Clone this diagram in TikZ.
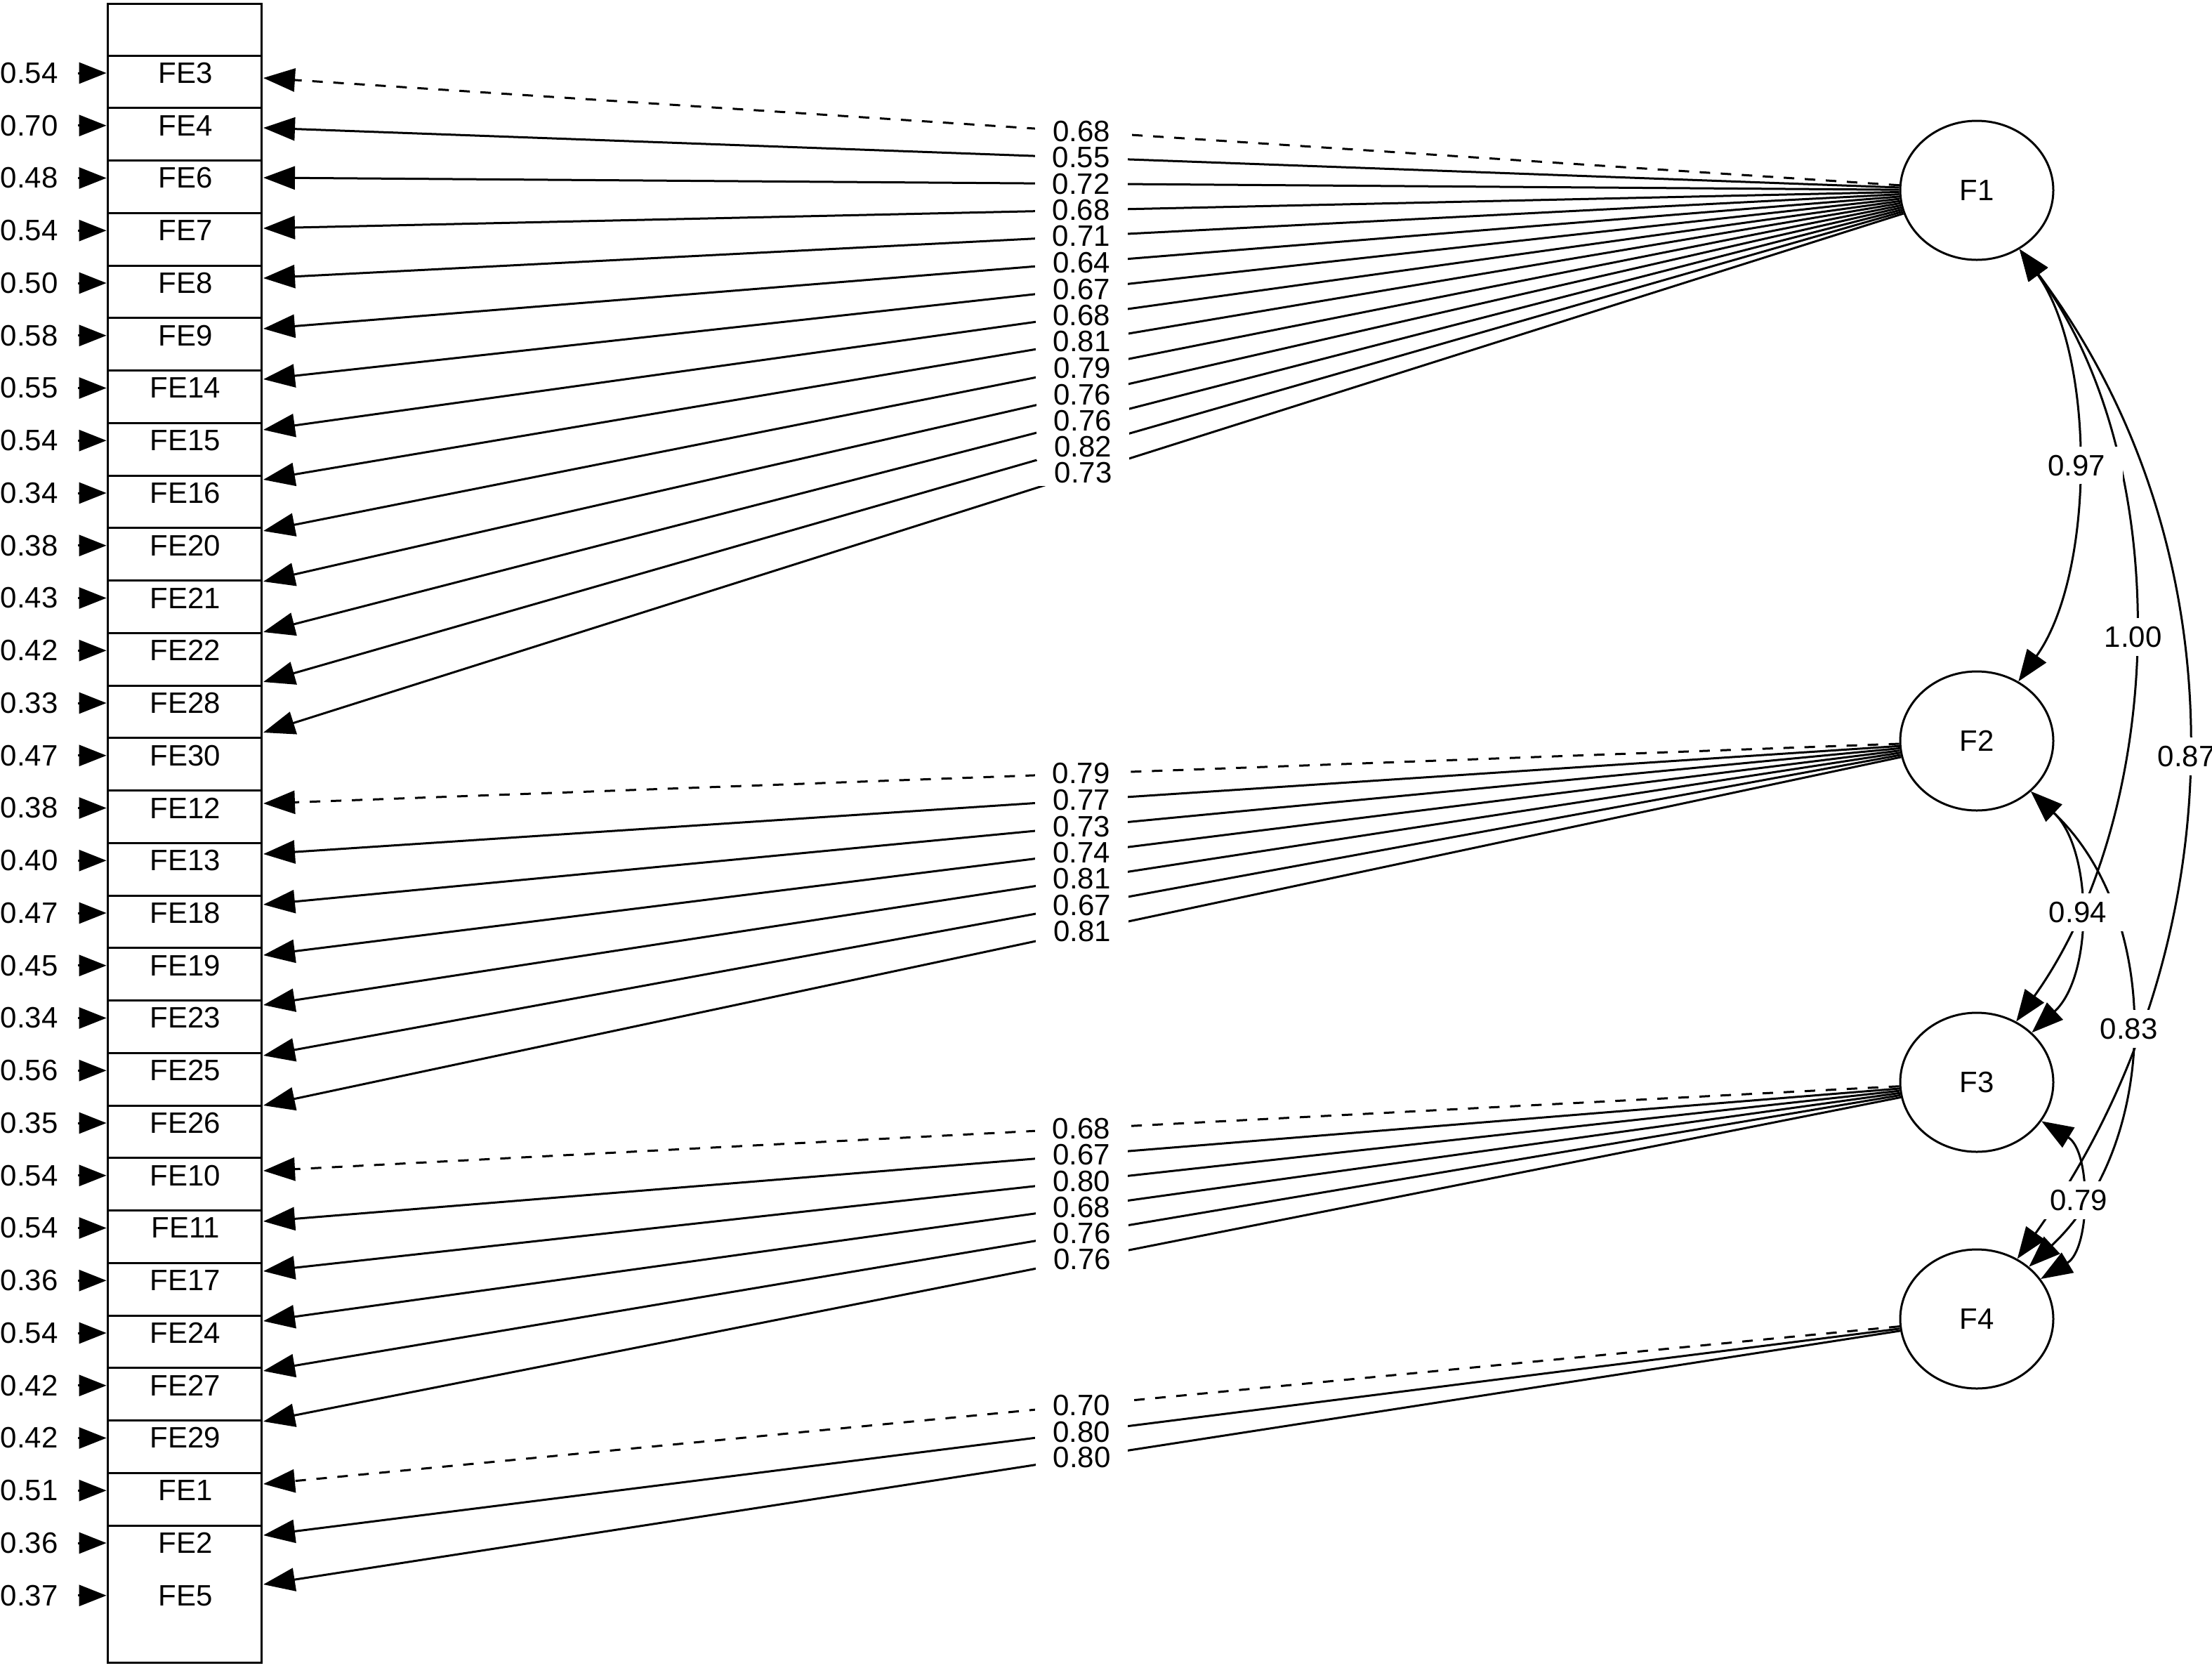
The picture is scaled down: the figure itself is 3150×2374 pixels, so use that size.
\documentclass[tikz,border=0pt]{standalone}
\usepackage{fontspec}
\setmainfont{Liberation Sans}
\usetikzlibrary{arrows.meta,shapes.geometric}
\begin{document}
\begin{tikzpicture}[x=0.5pt,y=-0.5pt,
  every node/.append style={font=\fontsize{21}{25}\selectfont},
  lw/.style={line width=1.5pt},
  latent/.style={draw,ellipse,line width=1.5pt,minimum width=109pt,minimum height=99pt,inner sep=0pt},
  item/.style={minimum width=112pt,inner sep=0pt},
  errlab/.style={anchor=east,inner sep=0pt},
  errarr/.style={line width=1.5pt,-{Triangle[length=19.5pt,width=15pt]}},
  load/.style={line width=1.5pt,-{Triangle[length=22.5pt,width=16.5pt]}},
  fixed/.style={load,dash pattern=on 7.5pt off 7.5pt},
  loadlab/.style={fill=white,inner xsep=12.5pt,inner ysep=2pt},
  cov/.style={line width=1.5pt,{Triangle[length=22.5pt,width=16.5pt]}-{Triangle[length=22.5pt,width=16.5pt]}},
  covlab/.style={fill=white,inner xsep=12.5pt,inner ysep=6pt}
]
\fill[white] (0,0) rectangle (3150,2374);
\useasboundingbox (0,0) rectangle (3150,2374);

% indicator column
\draw[lw] (153,5) rectangle (372,2367);
\foreach \k in {0,...,28} \draw[lw] (153,{79+74.75*\k}) -- (372,{79+74.75*\k});

\foreach \n/\v [count=\i from 0] in {FE3/0.54,FE4/0.70,FE6/0.48,FE7/0.54,FE8/0.50,FE9/0.58,FE14/0.55,FE15/0.54,FE16/0.34,FE20/0.38,FE21/0.43,FE22/0.42,FE28/0.33,FE30/0.47,FE12/0.38,FE13/0.40,FE18/0.47,FE19/0.45,FE23/0.34,FE25/0.56,FE26/0.35,FE10/0.54,FE11/0.54,FE17/0.36,FE24/0.54,FE27/0.42,FE29/0.42,FE1/0.51,FE2/0.36,FE5/0.37}{
  \node[item] (\n) at (264,{104+74.75*\i}) {\n};
  \node[errlab] (v\n) at (83,{104+74.75*\i}) {\v};
  \draw[errarr] ([xshift=14pt]v\n.east) -- (\n.west);
}

% latent factors
\node[latent] (F1) at (2815,271) {F1};
\node[latent] (F2) at (2815,1055) {F2};
\node[latent] (F3) at (2815,1541) {F3};
\node[latent] (F4) at (2815,1878) {F4};

\def\loadlist{F1/FE3/111/0.68/fixed,F1/FE4/182/0.55/load,F1/FE6/253/0.72/load,F1/FE7/325/0.68/load,F1/FE8/396/0.71/load,F1/FE9/468/0.64/load,F1/FE14/540/0.67/load,F1/FE15/612/0.68/load,F1/FE16/683/0.81/load,F1/FE20/756/0.79/load,F1/FE21/828/0.76/load,F1/FE22/900/0.76/load,F1/FE28/971/0.82/load,F1/FE30/1043/0.73/load,F2/FE12/1144/0.79/fixed,F2/FE13/1216/0.77/load,F2/FE18/1288/0.73/load,F2/FE19/1360/0.74/load,F2/FE23/1431/0.81/load,F2/FE25/1503/0.67/load,F2/FE26/1574/0.81/load,F3/FE10/1667/0.68/fixed,F3/FE11/1739/0.67/load,F3/FE17/1810/0.80/load,F3/FE24/1881/0.68/load,F3/FE27/1952/0.76/load,F3/FE29/2024/0.76/load,F4/FE1/2113/0.70/fixed,F4/FE2/2186/0.80/load,F4/FE5/2256/0.80/load}

\foreach \f/\n/\y/\l/\s in \loadlist {
  \coordinate (t\n) at (375,\y);
  \draw[\s] (\f) -- (t\n);
}
\foreach \f/\n/\y/\l/\s in \loadlist {
  \path (\f) -- (t\n) node[midway,loadlab] {\l};
}

% factor covariances
\draw[cov] (F1.-54) .. controls +(330,440) and +(308,-431) .. (F4.56) node[pos=0.5,covlab] {0.87};
\draw[cov] (F1.-54) .. controls +(225,305) and +(213,-298) .. (F3.57) node[pos=0.5,covlab] {1.00};
\draw[cov] (F2.-43) .. controls +(188,176) and +(188,-176) .. (F4.45) node[pos=0.5,covlab] {0.83};
\draw[cov] (F1.-54) .. controls +(109,153) and +(109,-153) .. (F2.55) node[pos=0.5,covlab] {0.97};
\draw[cov] (F2.-43) .. controls +(88,82) and +(88,-82) .. (F3.42) node[pos=0.5,covlab] {0.94};
\draw[cov] (F3.-31) .. controls +(71,43) and +(71,-43) .. (F4.32) node[pos=0.5,covlab] {0.79};
\end{tikzpicture}
\end{document}
